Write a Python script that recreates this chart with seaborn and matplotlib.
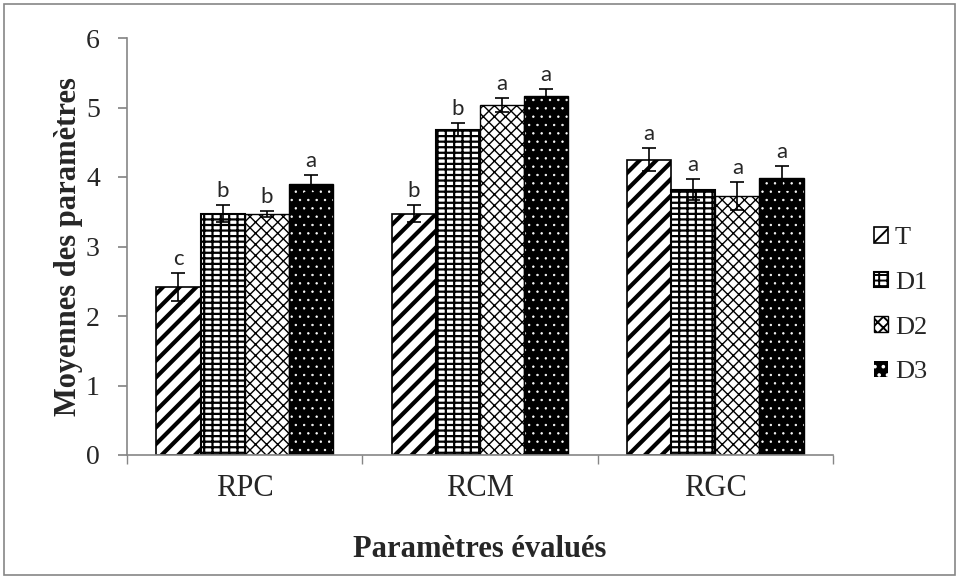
import matplotlib
matplotlib.use("Agg")
import matplotlib.pyplot as plt
import seaborn as sns
import pandas as pd
import numpy as np
from matplotlib.patches import Patch, Rectangle

categories = ["RPC", "RCM", "RGC"]
series = ["T", "D1", "D2", "D3"]
values_T = [2.42, 3.47, 4.25]
values_D1 = [3.47, 4.68, 3.82]
values_D2 = [3.47, 5.03, 3.73]
values_D3 = [3.90, 5.16, 3.99]
err_T = [0.20, 0.12, 0.17]
err_D1 = [0.12, 0.09, 0.15]
err_D2 = [0.04, 0.10, 0.20]
err_D3 = [0.13, 0.10, 0.17]
letters_T = ["c", "b", "a"]
letters_D1 = ["b", "b", "a"]
letters_D2 = ["b", "a", "a"]
letters_D3 = ["a", "a", "a"]
y_ticks = [0, 1, 2, 3, 4, 5, 6]

vals = {"T": values_T, "D1": values_D1, "D2": values_D2, "D3": values_D3}
errs = {"T": err_T, "D1": err_D1, "D2": err_D2, "D3": err_D3}
lets = {"T": letters_T, "D1": letters_D1, "D2": letters_D2, "D3": letters_D3}

rows = []
for s in series:
    for i, c in enumerate(categories):
        rows.append({"cat": c, "serie": s, "val": vals[s][i], "err": errs[s][i], "let": lets[s][i]})
df = pd.DataFrame(rows)

sns.set_theme(style="white")
plt.rcParams["font.family"] = ["Liberation Serif", "DejaVu Serif"]
plt.rcParams["hatch.linewidth"] = 1.4

fig = plt.figure(figsize=(9.59, 5.79), dpi=100)
ax = fig.add_axes([127/959, 1-455/579, (833-127)/959, (455-38)/579])

sns.barplot(data=df, x="cat", y="val", hue="serie", order=categories, hue_order=series,
            errorbar=None, width=0.75, ax=ax, legend=False, palette=["white"]*4, saturation=1)

styles = {
    "T": dict(facecolor="white", edgecolor="black", hatch="//", linewidth=1.2, hlw=3.0),
    "D1": dict(facecolor="white", edgecolor="black", hatch="---||", linewidth=1.5, hlw=1.6),
    "D2": dict(facecolor="white", edgecolor="black", hatch="xxx", linewidth=1.0, hlw=1.0),
    "D3": dict(facecolor="black", edgecolor="white", hatch="..", linewidth=0, hlw=0.5),
}

def style_patch(p, st):
    p.set_facecolor(st["facecolor"])
    p.set_edgecolor(st["edgecolor"])
    p.set_hatch(st["hatch"])
    p.set_linewidth(st["linewidth"])
    if hasattr(p, "set_hatch_linewidth"):
        p.set_hatch_linewidth(st["hlw"])

for container, s in zip(ax.containers, series):
    for i, bar in enumerate(container):
        st = styles[s]
        style_patch(bar, st)
        x = bar.get_x() + bar.get_width() / 2
        h = bar.get_height()
        e = errs[s][i]
        if s == "D3":
            ax.add_patch(Rectangle((bar.get_x(), 0), bar.get_width(), h, fill=False,
                                   edgecolor="black", linewidth=1.0, zorder=bar.get_zorder()))
        ax.errorbar(x, h, yerr=e, fmt="none", ecolor="black", elinewidth=1.2,
                    capsize=5, capthick=1.2, zorder=5)
        ax.annotate(lets[s][i], (x, h + e), xytext=(0, 3), textcoords="offset points",
                    ha="center", va="bottom", fontsize=16, family=["Lato", "DejaVu Sans"])

ax.set_ylim(0, 6)
ax.set_xlim(-0.5, 2.5)
ax.set_yticks(y_ticks)
ax.set_yticklabels([str(t) for t in y_ticks], fontsize=20)
ax.tick_params(axis="x", which="major", length=0, labelsize=22, pad=14)
ax.set_xticks([-0.5, 0.5, 1.5, 2.5], minor=True)
ax.tick_params(axis="x", which="minor", length=6.5, color="#868686", direction="out", bottom=True)
ax.tick_params(axis="y", length=6.5, color="#868686", direction="out", left=True, pad=13)
for sp in ["top", "right"]:
    ax.spines[sp].set_visible(False)
for sp in ["left", "bottom"]:
    ax.spines[sp].set_color("#868686")
    ax.spines[sp].set_linewidth(1.2)

ax.set_xlabel("Paramètres évalués", fontsize=22, fontweight="bold", labelpad=23)
ax.set_ylabel("Moyennes des paramètres", fontsize=22, fontweight="bold", labelpad=2)

handles = []
for s in series:
    p = Patch(label=s)
    style_patch(p, styles[s])
    handles.append(p)
leg = fig.legend(handles=handles, loc="center left", bbox_to_anchor=(850/959, 1-305/579),
                 frameon=False, fontsize=19, handlelength=0.55, handleheight=0.55,
                 handletextpad=0.25, labelspacing=0.85)

fig.add_artist(Rectangle((4/959, 4/579), 951/959, 571/579, transform=fig.transFigure,
                         fill=False, edgecolor="#868686", linewidth=1.2))

fig.savefig("out.png", dpi=100, facecolor="white")
